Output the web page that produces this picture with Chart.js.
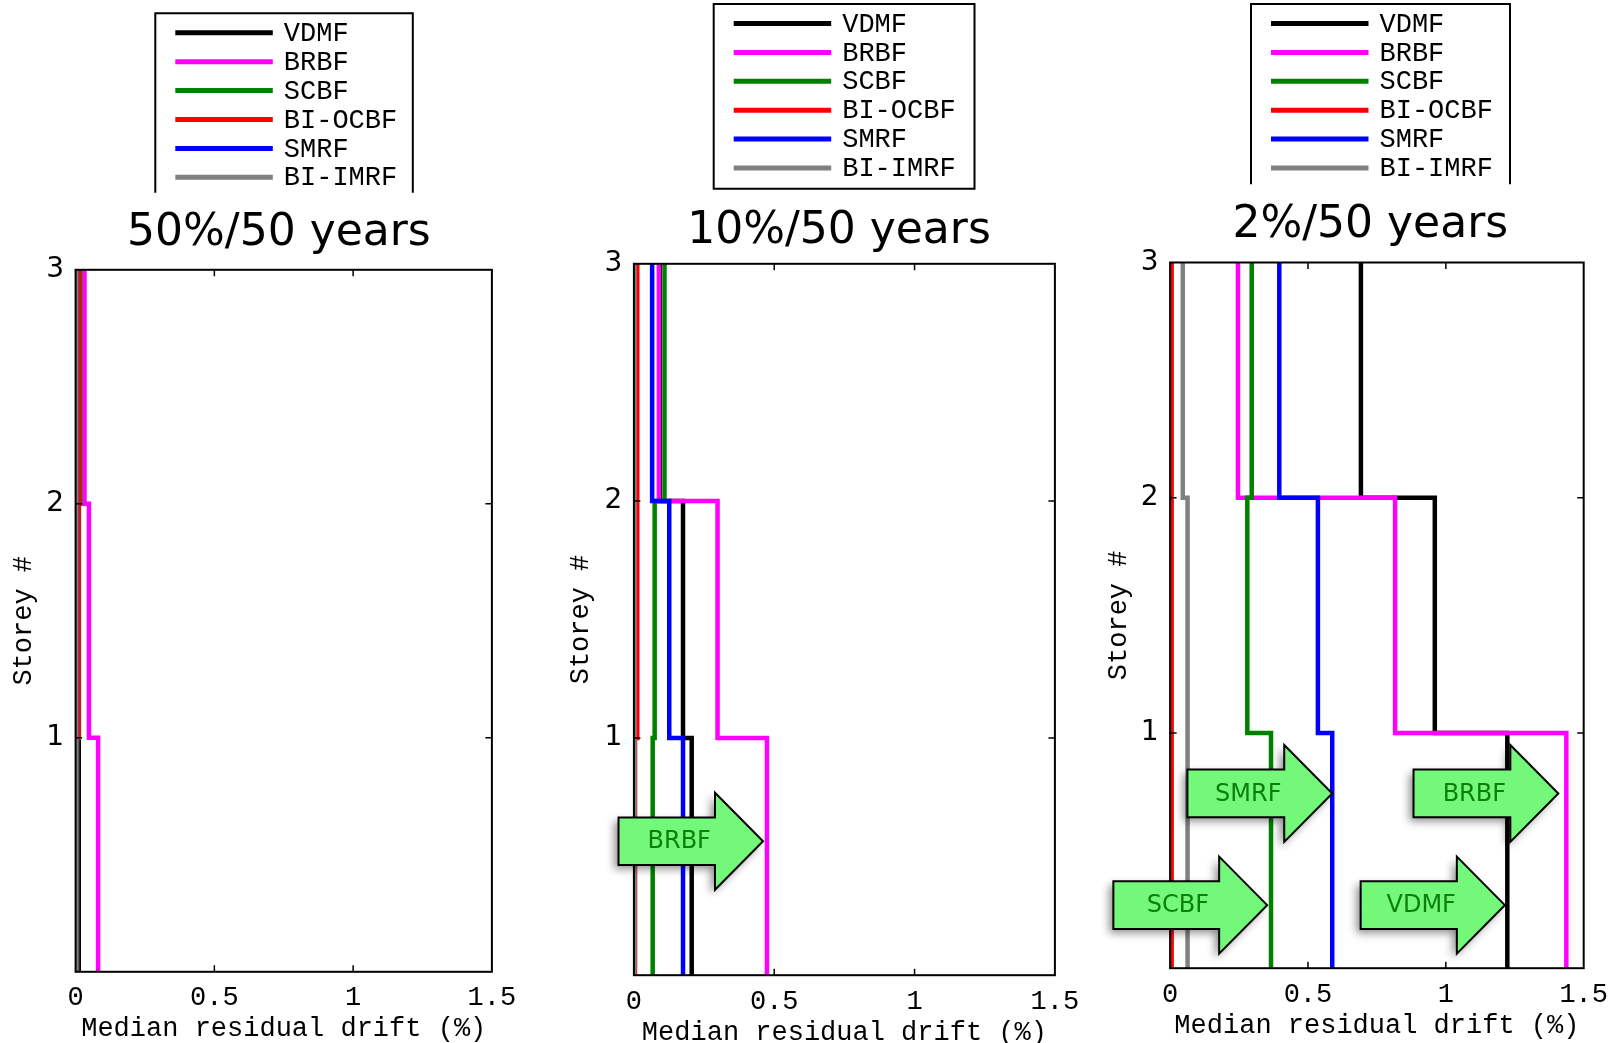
<!DOCTYPE html>
<html>
<head>
<meta charset="utf-8">
<script src="https://cdn.jsdelivr.net/npm/chart.js@4.4.1/dist/chart.umd.min.js"></script>
<style>
html,body{margin:0;padding:0;background:#fff;overflow:hidden;width:1618px;height:1043px}
canvas{position:absolute;left:0;top:0}
</style>
</head>
<body>
<canvas id="c0" width="1618" height="1100"></canvas>
<canvas id="c1" width="1618" height="1100"></canvas>
<canvas id="c2" width="1618" height="1100"></canvas>
<script>

/* DATA */

const systems=["VDMF","BRBF","SCBF","BI-OCBF","SMRF","BI-IMRF"]
const hazards=["50%/50 years","10%/50 years","2%/50 years"]
const xTicks=[0,0.5,1,1.5]
const yTicks=[0,1,2,3]

// median residual drift (%) for storey 1,2,3 , rows follow systems
const drift50=[
[0.010,0.012,0.015],
[0.081,0.048,0.032],
[0.006,0.012,0.017],
[0.004,0.011,0.013],
[0.002,0.002,0.003],
[0.002,0.002,0.003]
]
const drift10=[
[0.206,0.175,0.092],
[0.474,0.298,0.089],
[0.067,0.074,0.109],
[0.004,0.012,0.012],
[0.175,0.126,0.065],
[0.002,0.002,0.002]
]
const drift2=[
[1.223,0.960,0.692],
[1.437,0.816,0.246],
[0.366,0.280,0.296],
[0.004,0.006,0.006],
[0.588,0.536,0.396],
[0.062,0.064,0.046]
]

/* STYLE + LAYOUT */

const colors=["#000000","#ff00ff","#008000","#ff0000","#0000ff","#808080"]

const W=1618, H=1100

const panels=[
{drift:drift50,area:[75.6,269.8,491.9,971.8],axisLeft:7.6,xH:73,
 title:[278.9,245],legend:{x:155.3,y:13.3,w:257.5,h:179.4,open:true},arrows:[]},
{drift:drift10,area:[633.9,263.8,1054.9,975.2],axisLeft:564.6,xH:73.5,
 title:[839,243.3],legend:{x:713.7,y:4,w:260.8,h:184.7,open:false},
 arrows:[{label:"BRBF",x:0.460,y:0.565,len:144.5}]},
{drift:drift2,area:[1170.1,262.5,1590.1,968.2],axisLeft:1103.1,xH:73.8,
 title:[1370.3,236.7],legend:{x:1251,y:4,w:259,h:180.3,open:true},
 arrows:[{label:"SMRF",x:0.588,y:0.743,len:144.8},{label:"BRBF",x:1.408,y:0.743,len:144.8},
 {label:"SCBF",x:0.352,y:0.268,len:153.8},{label:"VDMF",x:1.214,y:0.268,len:144.2}]}
]

const MONO="'Liberation Mono','Courier New',monospace"
const SANS="'DejaVu Sans',Verdana,sans-serif"

/* step profile: vertical segment per storey */

function profile(d){
let pts=[]
d.forEach((v,i)=>{
pts.push({x:v,y:i})
pts.push({x:v,y:i+1})
})
return pts
}

/* ARROW */

function drawArrow(ctx,tx,ty,len,label){

const hl=48, hh=48.5, sh=23.8
const hx=tx-hl, sx=tx-len

ctx.beginPath()
ctx.moveTo(tx,ty)
ctx.lineTo(hx,ty-hh)
ctx.lineTo(hx,ty-sh)
ctx.lineTo(sx,ty-sh)
ctx.lineTo(sx,ty+sh)
ctx.lineTo(hx,ty+sh)
ctx.lineTo(hx,ty+hh)
ctx.closePath()

ctx.save()
ctx.shadowColor="rgba(0,0,0,0.45)"
ctx.shadowBlur=8
ctx.shadowOffsetX=-4
ctx.shadowOffsetY=4
ctx.fillStyle="#74f87a"
ctx.fill()
ctx.restore()

ctx.lineWidth=2
ctx.lineJoin="miter"
ctx.strokeStyle="#000"
ctx.stroke()

ctx.fillStyle="#0b7f0b"
ctx.font="24px "+SANS
ctx.textAlign="center"
ctx.textBaseline="middle"
ctx.fillText(label,sx+0.42*len,ty+1)

}

/* DECORATION PLUGIN */

const deco={
id:"deco",
afterDraw(chart,args,o){

const ctx=chart.ctx
const a=chart.chartArea
const xs=chart.scales.x, ys=chart.scales.y

ctx.save()

/* inner ticks */
ctx.strokeStyle="#000"
ctx.lineWidth=1.5
xTicks.slice(1,-1).forEach(v=>{
let p=xs.getPixelForValue(v)
ctx.beginPath()
ctx.moveTo(p,a.top);ctx.lineTo(p,a.top+6.5)
ctx.moveTo(p,a.bottom);ctx.lineTo(p,a.bottom-6.5)
ctx.stroke()
})
yTicks.slice(1,-1).forEach(v=>{
let p=ys.getPixelForValue(v)
ctx.beginPath()
ctx.moveTo(a.left,p);ctx.lineTo(a.left+6.5,p)
ctx.moveTo(a.right,p);ctx.lineTo(a.right-6.5,p)
ctx.stroke()
})

/* frame */
ctx.lineWidth=2
ctx.strokeRect(a.left,a.top,a.right-a.left,a.bottom-a.top)

/* arrows */
o.arrows.forEach(ar=>{
drawArrow(ctx,xs.getPixelForValue(ar.x),ys.getPixelForValue(ar.y),ar.len,ar.label)
})

/* title */
ctx.fillStyle="#000"
ctx.font="44px "+SANS
ctx.textAlign="center"
ctx.textBaseline="alphabetic"
ctx.fillText(o.title,o.titlePos[0],o.titlePos[1])

/* legend */
const L=o.legend
ctx.fillStyle="#fff"
ctx.fillRect(L.x,L.y,L.w,L.h)
ctx.strokeStyle="#000"
ctx.lineWidth=2
ctx.beginPath()
if(L.open){
ctx.moveTo(L.x,L.y+L.h);ctx.lineTo(L.x,L.y);ctx.lineTo(L.x+L.w,L.y);ctx.lineTo(L.x+L.w,L.y+L.h)
}else{
ctx.rect(L.x,L.y,L.w,L.h)
}
ctx.stroke()

ctx.font="27px "+MONO
ctx.textAlign="left"
ctx.textBaseline="middle"
chart.data.datasets.forEach((ds,i)=>{
let ry=L.y+19.5+i*28.9
ctx.strokeStyle=ds.borderColor
ctx.lineWidth=5
ctx.beginPath()
ctx.moveTo(L.x+20,ry);ctx.lineTo(L.x+117.5,ry)
ctx.stroke()
ctx.fillStyle="#000"
ctx.fillText(ds.label,L.x+128.5,ry+1)
})

ctx.restore()

}
}

/* CHARTS */

panels.forEach((p,k)=>{

const [l,t,r,b]=p.area
const yW=l-p.axisLeft

new Chart(document.getElementById("c"+k),{

type:"scatter",

data:{
datasets:systems.map((s,i)=>({
label:s,
data:profile(p.drift[i]),
showLine:true,
borderColor:colors[i],
backgroundColor:colors[i],
borderWidth:4.5,
pointRadius:0,
tension:0,
fill:false,
borderJoinStyle:"miter",
borderCapStyle:"butt",
order:systems.length-i
}))
},

options:{
responsive:false,
animation:false,
events:[],
layout:{padding:{left:p.axisLeft,top:t,right:W-r,bottom:H-b-p.xH}},
plugins:{
legend:{display:false},
tooltip:{enabled:false},
deco:{arrows:p.arrows,title:hazards[k],titlePos:p.title,legend:p.legend}
},
scales:{
x:{
type:"linear",
min:0,max:1.5,
afterFit:s=>{s.height=p.xH},
grid:{display:false,drawTicks:false},
border:{display:false},
ticks:{stepSize:0.5,padding:10,color:"#000",font:{family:MONO,size:27},maxRotation:0,
callback:v=>String(v)},
title:{display:true,text:"Median residual drift (%)",color:"#000",padding:0,font:{family:MONO,size:27}}
},
y:{
type:"linear",
min:0,max:3,
afterFit:s=>{s.width=yW},
grid:{display:false,drawTicks:false},
border:{display:false},
ticks:{stepSize:1,padding:11.5,color:"#000",font:{family:SANS,size:28},
callback:v=>v===0?"":String(v)},
title:{display:true,text:"Storey #",color:"#000",padding:0,font:{family:MONO,size:27}}
}
}
},

plugins:[deco]

})

})

</script>
</body>
</html>
